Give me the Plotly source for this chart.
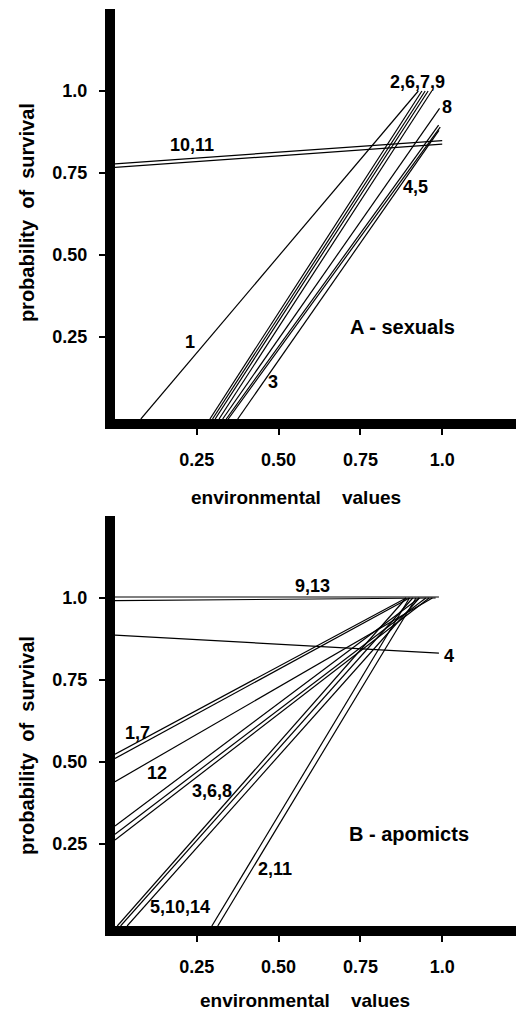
import plotly.graph_objects as go

# ---------------- data ----------------
# A - sexuals : each population is a straight line from (x0,y0) to (x1,y1)
sex_ids = ["1", "2", "6", "7", "9", "8", "4", "5", "3", "10", "11"]
sex_x0 = [0.079, 0.290, 0.298, 0.306, 0.318, 0.329, 0.340, 0.346, 0.375, 0.0, 0.0]
sex_y0 = [0.0, 0.0, 0.0, 0.0, 0.0, 0.0, 0.0, 0.0, 0.0, 0.778, 0.767]
sex_x1 = [0.927, 0.938, 0.948, 0.957, 0.968, 0.992, 0.989, 0.994, 0.990, 1.0, 1.0]
sex_y1 = [1.0, 1.0, 1.0, 1.0, 1.0, 0.947, 0.896, 0.890, 0.880, 0.849, 0.838]

# B - apomicts
apo_ids = ["9", "13", "4", "1", "7", "12", "3", "6", "8", "5", "10", "14", "2", "11"]
apo_x0 = [0.0, 0.0, 0.0, 0.0, 0.0, 0.0, 0.0, 0.0, 0.0, 0.007, 0.017, 0.037, 0.296, 0.314]
apo_y0 = [1.003, 0.992, 0.887, 0.524, 0.511, 0.440, 0.305, 0.280, 0.262, 0.0, 0.0, 0.0, 0.0, 0.0]
apo_x1 = [0.99, 0.98, 0.99, 0.89, 0.90, 0.97, 0.93, 0.95, 0.96, 0.89, 0.91, 0.93, 0.90, 0.92]
apo_y1 = [1.003, 1.0, 0.832, 1.0, 1.0, 1.0, 1.0, 1.0, 1.0, 1.0, 1.0, 1.0, 1.0, 1.0]

# labels placed next to the line groups
sex_lab_text = ["2,6,7,9", "8", "10,11", "4,5", "1", "3"]
sex_lab_x = [0.923, 1.014, 0.234, 0.918, 0.23, 0.483]
sex_lab_y = [1.027, 0.951, 0.836, 0.708, 0.234, 0.113]

apo_lab_text = ["9,13", "4", "1,7", "12", "3,6,8", "2,11", "5,10,14"]
apo_lab_x = [0.605, 1.02, 0.07, 0.127, 0.296, 0.488, 0.2]
apo_lab_y = [1.036, 0.824, 0.588, 0.466, 0.413, 0.174, 0.057]

tick_vals = [0.25, 0.50, 0.75, 1.0]
tick_text = ["0.25", "0.50", "0.75", "1.0"]

FONT = "Liberation Sans, Arial, Helvetica, sans-serif"


def f(size, bold=True):
    return dict(family=FONT, size=size, color="black", weight="bold" if bold else "normal")


fig = go.Figure()

for i in range(len(sex_ids)):
    fig.add_trace(go.Scatter(
        x=[sex_x0[i], sex_x1[i]], y=[sex_y0[i], sex_y1[i]],
        mode="lines", line=dict(color="black", width=1.2),
        name=sex_ids[i], showlegend=False, hoverinfo="skip",
        xaxis="x", yaxis="y"))

for i in range(len(apo_ids)):
    fig.add_trace(go.Scatter(
        x=[apo_x0[i], apo_x1[i]], y=[apo_y0[i], apo_y1[i]],
        mode="lines", line=dict(color="black", width=1.2),
        name=apo_ids[i], showlegend=False, hoverinfo="skip",
        xaxis="x2", yaxis="y2"))

annotations = []
for t, x, y in zip(sex_lab_text, sex_lab_x, sex_lab_y):
    annotations.append(dict(text=t, x=x, y=y, xref="x", yref="y", showarrow=False, font=f(18)))
for t, x, y in zip(apo_lab_text, apo_lab_x, apo_lab_y):
    annotations.append(dict(text=t, x=x, y=y, xref="x2", yref="y2", showarrow=False, font=f(18)))

C = dict(xanchor="center", yanchor="middle", showarrow=False)
annotations += [
    dict(text="A - sexuals", x=0.878, y=0.282, xref="x", yref="y", font=f(20), **C),
    dict(text="B - apomicts", x=0.899, y=0.28, xref="x2", yref="y2", font=f(20), **C),
    # axis titles (paper coordinates, outside the plotting areas)
    dict(text="environmental\u00a0\u00a0\u00a0 values", x=0.4425, y=0.4678, xref="paper", yref="paper",
         font=f(19), **C),
    dict(text="environmental\u00a0\u00a0\u00a0 values", x=0.464, y=-0.0807, xref="paper", yref="paper",
         font=f(19), **C),
    dict(text="probability\u00a0 of\u00a0 survival", x=-0.215, y=0.7775, xref="paper", yref="paper",
         textangle=-90, font=f(20), **C),
    dict(text="probability\u00a0 of\u00a0 survival", x=-0.215, y=0.1963, xref="paper", yref="paper",
         textangle=-90, font=f(20), **C),
]

axis_common = dict(
    range=[0, 1.25], showline=True, linewidth=10, linecolor="black",
    ticks="outside", ticklen=6, tickwidth=2, tickcolor="black",
    tickvals=tick_vals, ticktext=tick_text, showgrid=False, zeroline=False,
    tickfont=f(18), fixedrange=True,
)

fig.update_layout(
    width=516, height=1003,
    margin=dict(l=107, r=0, t=1, b=85),
    paper_bgcolor="white", plot_bgcolor="white",
    xaxis=dict(domain=[0, 1], anchor="y", ticklabelstandoff=9, **axis_common),
    yaxis=dict(domain=[0.5529, 1], anchor="x", ticklabelstandoff=8, **axis_common),
    xaxis2=dict(domain=[0, 1], anchor="y2", ticklabelstandoff=9, **axis_common),
    yaxis2=dict(domain=[0, 0.4471], anchor="x2", ticklabelstandoff=8, **axis_common),
    annotations=annotations,
    showlegend=False,
)

fig.write_html("out.html")
